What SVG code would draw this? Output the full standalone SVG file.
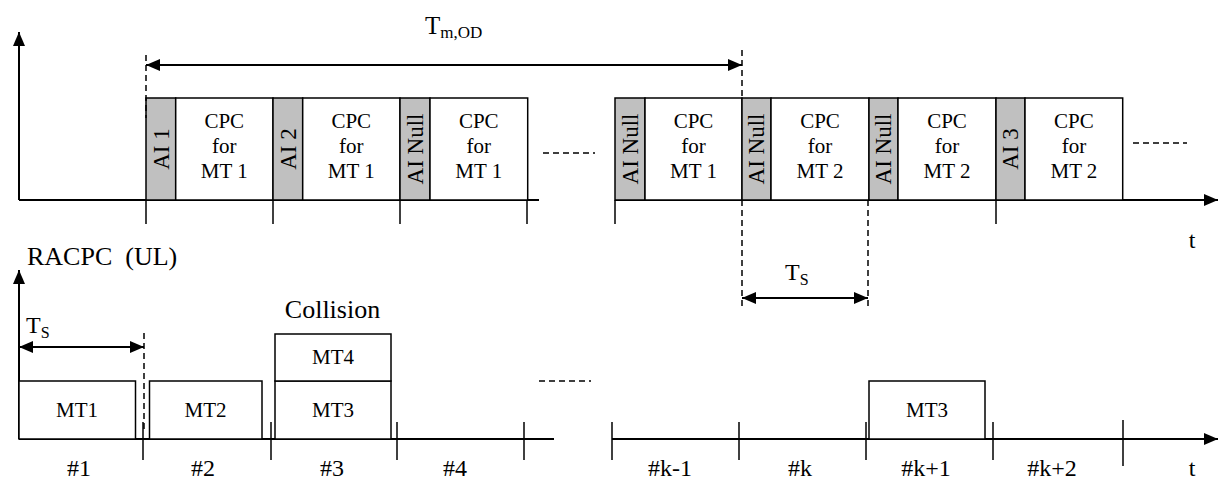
<svg xmlns="http://www.w3.org/2000/svg" width="1218" height="482" viewBox="0 0 1218 482">
<style>
text{font-family:"Liberation Serif","Times New Roman",serif;fill:#000}
.ax{stroke:#000;stroke-width:2;fill:none}
.tk{stroke:#000;stroke-width:1.5;fill:none}
.bx{stroke:#000;stroke-width:1.5;fill:#fff}
.ai{stroke:#000;stroke-width:1.5;fill:#c0c0c0}
.ds{stroke:#000;stroke-width:1.5;stroke-dasharray:6,4;fill:none}
.cpc{font-size:21px;text-anchor:middle}
.ail{font-size:23px;text-anchor:middle}
.mt{font-size:21px;text-anchor:middle}
.lb{font-size:24px;text-anchor:middle}
</style>
<defs>
<marker id="ah" markerUnits="userSpaceOnUse" markerWidth="14" markerHeight="12" refX="14" refY="6" orient="auto-start-reverse">
<path d="M0,0 L14,6 L0,12 z" fill="#000"/>
</marker>
</defs>

<g id="axes">
<line class="ax" x1="19" y1="200" x2="19" y2="32" marker-end="url(#ah)"/>
<line class="ax" x1="19" y1="200" x2="539" y2="200"/>
<line class="ax" x1="615" y1="200" x2="1218" y2="200" marker-end="url(#ah)"/>
<line class="ax" x1="19" y1="439" x2="19" y2="270" marker-end="url(#ah)"/>
<line class="ax" x1="19" y1="439" x2="554" y2="439"/>
<line class="ax" x1="612" y1="439" x2="1218" y2="439" marker-end="url(#ah)"/>
</g>

<g id="top-ticks">
<line class="tk" x1="146" y1="200" x2="146" y2="224"/>
<line class="tk" x1="273" y1="200" x2="273" y2="224"/>
<line class="tk" x1="400" y1="200" x2="400" y2="224"/>
<line class="tk" x1="527" y1="200" x2="527" y2="224"/>
<line class="tk" x1="615" y1="200" x2="615" y2="224"/>
<line class="tk" x1="996" y1="200" x2="996" y2="224"/>
</g>

<g id="bottom-ticks">
<line class="tk" x1="143" y1="422" x2="143" y2="460"/>
<line class="tk" x1="271" y1="422" x2="271" y2="460"/>
<line class="tk" x1="397" y1="422" x2="397" y2="460"/>
<line class="tk" x1="524" y1="422" x2="524" y2="460"/>
<line class="tk" x1="612" y1="422" x2="612" y2="460"/>
<line class="tk" x1="739" y1="422" x2="739" y2="460"/>
<line class="tk" x1="866" y1="422" x2="866" y2="460"/>
<line class="tk" x1="993" y1="422" x2="993" y2="460"/>
<line class="tk" x1="1123" y1="420" x2="1123" y2="466"/>
</g>

<g id="frames-left">
<rect class="ai" x="146" y="98" width="29.7" height="102"/>
<rect class="bx" x="175.7" y="98" width="97.3" height="102"/>
<rect class="ai" x="273" y="98" width="29.7" height="102"/>
<rect class="bx" x="302.7" y="98" width="97.3" height="102"/>
<rect class="ai" x="400" y="98" width="30" height="102"/>
<rect class="bx" x="430" y="98" width="97.7" height="102"/>
<text class="ail" transform="translate(168.5,149) rotate(-90)">AI 1</text>
<text class="ail" transform="translate(295.5,149) rotate(-90)">AI 2</text>
<text class="ail" transform="translate(422.7,149) rotate(-90)">AI Null</text>
<text class="cpc" x="224.3" y="127.7">CPC</text><text class="cpc" x="224.3" y="153">for</text><text class="cpc" x="224.3" y="178">MT 1</text>
<text class="cpc" x="351.3" y="127.7">CPC</text><text class="cpc" x="351.3" y="153">for</text><text class="cpc" x="351.3" y="178">MT 1</text>
<text class="cpc" x="478.8" y="127.7">CPC</text><text class="cpc" x="478.8" y="153">for</text><text class="cpc" x="478.8" y="178">MT 1</text>
</g>

<g id="frames-right">
<rect class="ai" x="615" y="98" width="30" height="102"/>
<rect class="bx" x="645" y="98" width="97" height="102"/>
<rect class="ai" x="742" y="98" width="29" height="102"/>
<rect class="bx" x="771" y="98" width="98" height="102"/>
<rect class="ai" x="869" y="98" width="29" height="102"/>
<rect class="bx" x="898" y="98" width="98" height="102"/>
<rect class="ai" x="996" y="98" width="29" height="102"/>
<rect class="bx" x="1025" y="98" width="97.7" height="102"/>
<text class="ail" transform="translate(637.7,149) rotate(-90)">AI Null</text>
<text class="ail" transform="translate(764.2,149) rotate(-90)">AI Null</text>
<text class="ail" transform="translate(891.2,149) rotate(-90)">AI Null</text>
<text class="ail" transform="translate(1018.2,149) rotate(-90)">AI 3</text>
<text class="cpc" x="693.5" y="127.7">CPC</text><text class="cpc" x="693.5" y="153">for</text><text class="cpc" x="693.5" y="178">MT 1</text>
<text class="cpc" x="820" y="127.7">CPC</text><text class="cpc" x="820" y="153">for</text><text class="cpc" x="820" y="178">MT 2</text>
<text class="cpc" x="947" y="127.7">CPC</text><text class="cpc" x="947" y="153">for</text><text class="cpc" x="947" y="178">MT 2</text>
<text class="cpc" x="1073.9" y="127.7">CPC</text><text class="cpc" x="1073.9" y="153">for</text><text class="cpc" x="1073.9" y="178">MT 2</text>
</g>

<g id="connectors">
<line class="ds" x1="146" y1="55" x2="146" y2="118"/>
<line class="ds" x1="742" y1="50" x2="742" y2="98"/>
<line class="ax" x1="146" y1="65" x2="742" y2="65" marker-start="url(#ah)" marker-end="url(#ah)"/>
<line class="ds" x1="742" y1="200" x2="742" y2="310"/>
<line class="ds" x1="868" y1="200" x2="868" y2="310"/>
<line class="ax" x1="742" y1="298" x2="868" y2="298" marker-start="url(#ah)" marker-end="url(#ah)"/>
<line class="ds" x1="144" y1="333" x2="144" y2="430"/>
<line class="ax" x1="19" y1="347" x2="144" y2="347" marker-start="url(#ah)" marker-end="url(#ah)"/>
<line class="ds" x1="543" y1="153" x2="595" y2="153"/>
<line class="ds" x1="1133" y1="143" x2="1187" y2="143"/>
<line class="ds" x1="539" y1="381" x2="591" y2="381"/>
</g>

<g id="slots">
<rect class="bx" x="19" y="381" width="116.5" height="58"/>
<text class="mt" x="77" y="417">MT1</text>
<rect class="bx" x="149.5" y="381" width="112.5" height="58"/>
<text class="mt" x="205.5" y="417">MT2</text>
<rect class="bx" x="275" y="381" width="116" height="58"/>
<text class="mt" x="333" y="417">MT3</text>
<rect class="bx" x="275" y="334" width="116" height="47"/>
<text class="mt" x="333" y="364">MT4</text>
<rect class="bx" x="869" y="381" width="116" height="58"/>
<text class="mt" x="927" y="417">MT3</text>
</g>

<g id="labels">
<text x="425" y="33.5" font-size="25">T<tspan font-size="17" dy="4">m,OD</tspan></text>
<text x="785" y="280" font-size="24">T<tspan font-size="16" dy="5">S</tspan></text>
<text x="26" y="333" font-size="24">T<tspan font-size="16" dy="5">S</tspan></text>
<text x="27" y="265" font-size="26">RACPC&#160; (UL)</text>
<text x="332.5" y="317.5" font-size="26" text-anchor="middle">Collision</text>
<text class="lb" x="1192" y="248">t</text>
<text class="lb" x="1192" y="476">t</text>
<text class="lb" x="79" y="476">#1</text>
<text class="lb" x="203" y="476">#2</text>
<text class="lb" x="332" y="476">#3</text>
<text class="lb" x="455" y="476">#4</text>
<text class="lb" x="670" y="476">#k-1</text>
<text class="lb" x="800" y="476">#k</text>
<text class="lb" x="926" y="476">#k+1</text>
<text class="lb" x="1052" y="476">#k+2</text>
</g>
</svg>
